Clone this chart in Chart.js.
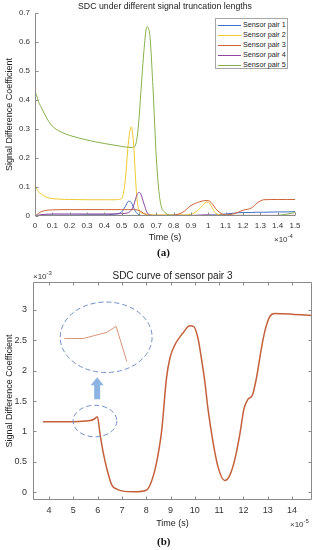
<!DOCTYPE html>
<html>
<head>
<meta charset="utf-8">
<title>SDC charts</title>
<script src="https://cdn.jsdelivr.net/npm/chart.js@4.4.0/dist/chart.umd.min.js"></script>
<style>
    body { margin: 0; background: #fff; width: 326px; height: 550px; position: relative; overflow: hidden; font-family: "Liberation Sans", Arial, sans-serif; }
    .wrap { position: absolute; left: 0; width: 326px; }
    #wrapA { top: 0; height: 245px; }
    #wrapB { top: 262px; height: 270px; }
    .exp { position: absolute; font-size: 8px; color: #333; white-space: nowrap; }
    .exp sup { font-size: 6px; }
    .cap { position: absolute; font-family: "Liberation Serif", serif; font-weight: bold; font-size: 11px; color: #111; }
    #legendA { position: absolute; left: 215px; top: 18px; width: 73px; height: 51px; border: 1px solid #a6a6a6; background: #fff; font-size: 7.2px; color: #262626; padding-top: 1px; box-sizing: border-box; }
    .legend-row { height: 10px; line-height: 10px; white-space: nowrap; }
    .swatch { display: inline-block; width: 23px; height: 1px; vertical-align: middle; margin: 0 2px 0 2px; }
</style>
</head>
<body>
<div class="wrap" id="wrapA"><canvas id="chartA" width="326" height="245"></canvas></div>
<div id="legendA"></div>
<div class="exp" style="left:274px; top:233px;">&times;10<sup>-4</sup></div>
<div class="cap" style="left:157px; top:246px;">(a)</div>

<div class="wrap" id="wrapB"><canvas id="chartB" width="326" height="270"></canvas></div>
<div class="exp" style="left:33px; top:270px;">&times;10<sup>-3</sup></div>
<div class="exp" style="left:290px; top:518px;">&times;10<sup>-5</sup></div>
<div class="cap" style="left:157px; top:535px;">(b)</div>

<script>
'use strict';

// (a) time in units of 1e-4 s
let timeA = [0, 0.01, 0.02, 0.04, 0.07, 0.1, 0.15, 0.2, 0.3, 0.4, 0.45, 0.5, 0.52, 0.54, 0.555,
    0.57, 0.58, 0.59, 0.6, 0.61, 0.63, 0.645, 0.66, 0.68, 0.7, 0.72, 0.75, 0.8, 0.85, 0.9,
    0.95, 0.98, 1.0, 1.02, 1.05, 1.1, 1.15, 1.2, 1.25, 1.28, 1.32, 1.4, 1.45, 1.5];
let pair1 = [0, 0.001, 0.002, 0.002, 0.003, 0.003, 0.003, 0.003, 0.004, 0.004, 0.006, 0.014, 0.032, 0.051, 0.047,
    0.028, 0.016, 0.008, 0.004, 0.002, 0.001, 0.001, 0.001, 0.001, 0.001, 0.001, 0.001, 0.001, 0.001, 0.001,
    0.002, 0.002, 0.002, 0.003, 0.004, 0.007, 0.010, 0.012, 0.012, 0.013, 0.013, 0.014, 0.014, 0.015];
let pair2 = [0.1, 0.093, 0.085, 0.074, 0.064, 0.06, 0.058, 0.057, 0.056, 0.056, 0.056, 0.06, 0.12, 0.26, 0.307,
    0.24, 0.13, 0.05, 0.022, 0.012, 0.008, 0.006, 0.005, 0.004, 0.004, 0.004, 0.004, 0.004, 0.004, 0.006,
    0.025, 0.045, 0.048, 0.03, 0.006, 0.003, 0.002, 0.002, 0.002, 0.002, 0.002, 0.002, 0.002, 0.002];
let pair3 = [0, 0.004, 0.009, 0.016, 0.02, 0.021, 0.022, 0.022, 0.022, 0.022, 0.022, 0.022, 0.022, 0.022, 0.022,
    0.022, 0.022, 0.021, 0.019, 0.016, 0.008, 0.003, 0.001, 0, 0, 0, 0.001, 0.003, 0.012, 0.036,
    0.049, 0.053, 0.053, 0.044, 0.02, 0.004, 0.008, 0.02, 0.028, 0.044, 0.056, 0.057, 0.057, 0.057];
let pair4 = [0, 0.002, 0.003, 0.005, 0.006, 0.007, 0.007, 0.007, 0.007, 0.007, 0.007, 0.008, 0.009, 0.012, 0.02,
    0.038, 0.058, 0.075, 0.082, 0.076, 0.04, 0.014, 0.004, 0.002, 0.002, 0.002, 0.002, 0.002, 0.002, 0.002,
    0.003, 0.004, 0.004, 0.003, 0.002, 0.002, 0.002, 0.002, 0.002, 0.002, 0.002, 0.002, 0.002, 0.002];
let pair5 = [0.43, 0.415, 0.395, 0.37, 0.335, 0.31, 0.29, 0.278, 0.262, 0.25, 0.245, 0.24, 0.238, 0.237, 0.236,
    0.238, 0.245, 0.275, 0.335, 0.42, 0.58, 0.652, 0.635, 0.45, 0.2, 0.06, 0.012, 0.002, 0.001, 0.001,
    0.001, 0.001, 0.001, 0.001, 0.001, 0.001, 0.001, 0.001, 0.001, 0.001, 0.001, 0.002, 0.006, 0.012];
let seriesNames = ['Sensor pair 1', 'Sensor pair 2', 'Sensor pair 3', 'Sensor pair 4', 'Sensor pair 5'];
let seriesColors = ['#3f72c6', '#eec92e', '#cc6236', '#8f44a0', '#86b14a'];
let xTicksA = [0, 0.1, 0.2, 0.3, 0.4, 0.5, 0.6, 0.7, 0.8, 0.9, 1, 1.1, 1.2, 1.3, 1.4, 1.5];
let yTicksA = [0, 0.1, 0.2, 0.3, 0.4, 0.5, 0.6, 0.7];

// (b) time in units of 1e-5 s, SDC in units of 1e-3
let timeB = [3.75, 4, 4.5, 5, 5.5, 5.7, 5.85, 5.99, 6.1, 6.23, 6.37, 6.58, 6.79, 7, 7.5,
    8, 8.16, 8.36, 8.5, 8.64, 8.83, 8.97, 9.17, 9.51, 9.79, 9.95, 10.13, 10.27, 10.41, 10.54,
    10.75, 10.95, 11.23, 11.44, 11.64, 11.85, 12.02, 12.19, 12.37, 12.53, 12.74, 12.88, 13.08, 13.29, 14, 14.8];
let sdcPair3 = [1.16, 1.16, 1.16, 1.16, 1.17, 1.18, 1.2, 1.24, 0.95, 0.65, 0.4, 0.12, 0.05, 0.02, 0.005,
    0.03, 0.12, 0.37, 0.65, 1.03, 1.87, 2.2, 2.42, 2.62, 2.74, 2.73, 2.53, 2.2, 1.82, 1.37,
    0.82, 0.42, 0.19, 0.28, 0.53, 0.95, 1.37, 1.53, 1.6, 1.87, 2.37, 2.65, 2.89, 2.94, 2.93, 2.91];
// magnified view of the peak near 6e-5 s, drawn inside the big ellipse
let insetX = [4.63, 5.41, 6.37, 6.76, 7.2];
let insetY = [2.53, 2.53, 2.63, 2.73, 2.15];
let xTicksB = [4, 5, 6, 7, 8, 9, 10, 11, 12, 13, 14];
let yTicksB = [0, 0.5, 1, 1.5, 2, 2.5, 3];

let axisColor = '#8a8a8a';
let textColor = '#333';
let tickFont = { family: '"Liberation Sans", Arial, sans-serif', size: 8 };
let labelFont = { family: '"Liberation Sans", Arial, sans-serif', size: 9 };

function toPoints(xs, ys) {
    let pts = [];
    for (let i = 0; i < xs.length; i++) {
        pts.push({ x: xs[i], y: ys[i] });
    }
    return pts;
}

// inward tick marks and axis lines like the MATLAB figure
let matlabAxes = {
    id: 'matlabAxes',
    afterDatasetsDraw(chart, args, opts) {
        let ctx = chart.ctx;
        let a = chart.chartArea;
        let xs = chart.scales.x;
        let ys = chart.scales.y;
        let len = opts.len || 3;
        ctx.save();
        ctx.strokeStyle = axisColor;
        ctx.lineWidth = 1;
        ctx.beginPath();
        let l = Math.round(a.left) + 0.5, r = Math.round(a.right) - 0.5;
        let t = Math.round(a.top) + 0.5, b = Math.round(a.bottom) - 0.5;
        ctx.moveTo(l, t); ctx.lineTo(l, b); ctx.lineTo(r, b);
        if (opts.box) {
            ctx.lineTo(r, t); ctx.lineTo(l, t);
        }
        xs.ticks.forEach(function (tk) {
            let px = Math.round(xs.getPixelForValue(tk.value)) + 0.5;
            ctx.moveTo(px, b); ctx.lineTo(px, b - len);
            if (opts.box) { ctx.moveTo(px, t); ctx.lineTo(px, t + len); }
        });
        ys.ticks.forEach(function (tk) {
            let py = Math.round(ys.getPixelForValue(tk.value)) + 0.5;
            ctx.moveTo(l, py); ctx.lineTo(l + len, py);
            if (opts.box) { ctx.moveTo(r, py); ctx.lineTo(r - len, py); }
        });
        ctx.stroke();
        ctx.restore();
    }
};

// dashed ellipses and the arrow of figure (b)
let callouts = {
    id: 'callouts',
    afterDatasetsDraw(chart, args, opts) {
        if (!opts.rings) return;
        let ctx = chart.ctx;
        let xs = chart.scales.x;
        let ys = chart.scales.y;
        ctx.save();
        ctx.strokeStyle = '#6f8fca';
        ctx.lineWidth = 1;
        ctx.setLineDash([5, 3]);
        opts.rings.forEach(function (rg) {
            let cx = xs.getPixelForValue(rg.x);
            let cy = ys.getPixelForValue(rg.y);
            let rx = Math.abs(xs.getPixelForValue(rg.x + rg.rx) - cx);
            let ry = Math.abs(ys.getPixelForValue(rg.y + rg.ry) - cy);
            ctx.beginPath();
            ctx.ellipse(cx, cy, rx, ry, 0, 0, Math.PI * 2);
            ctx.stroke();
        });
        ctx.setLineDash([]);
        let ar = opts.arrow;
        let ax = xs.getPixelForValue(ar.x);
        let y0 = ys.getPixelForValue(ar.from);
        let y1 = ys.getPixelForValue(ar.to);
        let head = 8;
        ctx.fillStyle = '#8db3e2';
        ctx.beginPath();
        ctx.moveTo(ax - 3, y0);
        ctx.lineTo(ax - 3, y1 + head);
        ctx.lineTo(ax - 6.5, y1 + head);
        ctx.lineTo(ax, y1);
        ctx.lineTo(ax + 6.5, y1 + head);
        ctx.lineTo(ax + 3, y1 + head);
        ctx.lineTo(ax + 3, y0);
        ctx.closePath();
        ctx.fill();
        ctx.restore();
    }
};

let datasetsA = [];
let allPairs = [pair1, pair2, pair3, pair4, pair5];
for (let i = 0; i < allPairs.length; i++) {
    datasetsA.push({
        label: seriesNames[i],
        data: toPoints(timeA, allPairs[i]),
        borderColor: seriesColors[i],
        borderWidth: 1,
        pointRadius: 0,
        cubicInterpolationMode: 'monotone',
        order: allPairs.length - i
    });
}

let chartA = new Chart(document.getElementById('chartA').getContext('2d'), {
    type: 'line',
    data: { datasets: datasetsA },
    options: {
        responsive: false,
        animation: false,
        layout: { padding: { left: 0, right: 31, top: 0, bottom: 0 } },
        plugins: {
            legend: { display: false },
            tooltip: { enabled: false },
            title: {
                display: true,
                text: 'SDC under different signal truncation lengths',
                color: '#222',
                font: { family: '"Liberation Sans", Arial, sans-serif', size: 8.75, weight: 'normal' },
                fullSize: false,
                padding: { top: 1, bottom: 1.5 }
            },
            matlabAxes: { box: false, len: 3 }
        },
        scales: {
            x: {
                type: 'linear',
                min: 0,
                max: 1.5,
                afterBuildTicks: function (s) { s.ticks = xTicksA.map(v => ({ value: v })); },
                afterFit: function (s) { s.height = 29; },
                grid: { display: false, drawTicks: false },
                border: { display: false },
                ticks: { color: textColor, font: tickFont, padding: 5, autoSkip: false, maxRotation: 0, callback: v => String(v) },
                title: { display: true, text: 'Time (s)', color: '#222', font: labelFont, padding: { top: 0, bottom: 2 } }
            },
            y: {
                min: 0,
                max: 0.7,
                afterBuildTicks: function (s) { s.ticks = yTicksA.map(v => ({ value: v })); },
                afterFit: function (s) { s.width = 35; },
                grid: { display: false, drawTicks: false },
                border: { display: false },
                ticks: { color: textColor, font: tickFont, padding: 5, callback: v => String(v) },
                title: { display: true, text: 'Signal Difference Coefficient', color: '#222', font: labelFont, padding: { top: 4, bottom: 0 } }
            }
        }
    },
    plugins: [matlabAxes]
});

let legendEl = document.getElementById('legendA');
for (let i = 0; i < seriesNames.length; i++) {
    let rowEl = document.createElement('div');
    rowEl.className = 'legend-row';
    let swatchEl = document.createElement('span');
    swatchEl.className = 'swatch';
    swatchEl.style.background = seriesColors[i];
    let textEl = document.createElement('span');
    textEl.textContent = seriesNames[i];
    rowEl.appendChild(swatchEl);
    rowEl.appendChild(textEl);
    legendEl.appendChild(rowEl);
}

let chartB = new Chart(document.getElementById('chartB').getContext('2d'), {
    type: 'line',
    data: {
        datasets: [{
            label: 'Sensor pair 3',
            data: toPoints(timeB, sdcPair3),
            borderColor: '#c4603a',
            borderWidth: 1.5,
            pointRadius: 0,
            cubicInterpolationMode: 'monotone'
        }, {
            label: 'zoom',
            data: toPoints(insetX, insetY),
            borderColor: '#d99478',
            borderWidth: 1,
            pointRadius: 0,
            tension: 0
        }]
    },
    options: {
        responsive: false,
        animation: false,
        layout: { padding: { left: 0, right: 14, top: 8, bottom: 0 } },
        plugins: {
            legend: { display: false },
            tooltip: { enabled: false },
            title: {
                display: true,
                text: 'SDC curve of sensor pair 3',
                color: '#222',
                font: { family: '"Liberation Sans", Arial, sans-serif', size: 10, weight: 'normal' },
                fullSize: false,
                padding: { top: 0, bottom: 0 }
            },
            matlabAxes: { box: true, len: 3 },
            callouts: {
                rings: [{ x: 6.35, y: 2.55, rx: 1.89, ry: 0.58 }, { x: 5.89, y: 1.17, rx: 0.9, ry: 0.26 }],
                arrow: { x: 5.98, from: 1.53, to: 1.89 }
            }
        },
        scales: {
            x: {
                type: 'linear',
                min: 3.34,
                max: 14.82,
                afterBuildTicks: function (s) { s.ticks = xTicksB.map(v => ({ value: v })); },
                afterFit: function (s) { s.height = 32; },
                grid: { display: false, drawTicks: false },
                border: { display: false },
                ticks: { color: textColor, font: { family: tickFont.family, size: 9 }, padding: 5, autoSkip: false, maxRotation: 0, callback: v => String(v) },
                title: { display: true, text: 'Time (s)', color: '#222', font: labelFont, padding: { top: 0, bottom: 3 } }
            },
            y: {
                min: -0.13,
                max: 3.46,
                afterBuildTicks: function (s) { s.ticks = yTicksB.map(v => ({ value: v })); },
                afterFit: function (s) { s.width = 33; },
                grid: { display: false, drawTicks: false },
                border: { display: false },
                ticks: { color: textColor, font: { family: tickFont.family, size: 9 }, padding: 6, callback: v => String(v) },
                title: { display: true, text: 'Signal Difference Coefficient', color: '#222', font: labelFont, padding: { top: 4, bottom: 0 } }
            }
        }
    },
    plugins: [matlabAxes, callouts]
});
</script>
</body>
</html>
